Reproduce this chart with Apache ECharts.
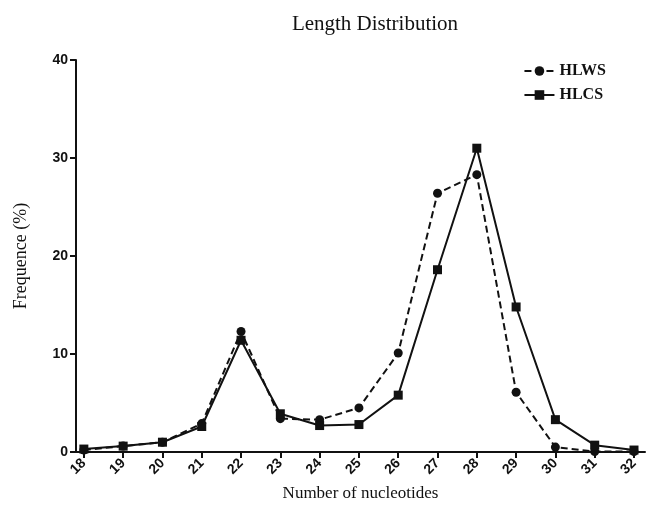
<!DOCTYPE html>
<html><head><meta charset="utf-8">
<script src="https://cdn.jsdelivr.net/npm/echarts@6/dist/echarts.min.js"></script>
<style>html,body{margin:0;padding:0;background:#fff}#c{width:647px;height:507px}</style>
</head><body><div id="c"></div>
<script>
const categories = [18,19,20,21,22,23,24,25,26,27,28,29,30,31,32];
const hlws = [0.2,0.6,1.0,2.9,12.3,3.4,3.3,4.5,10.1,26.4,28.3,6.1,0.5,0.05,0.05];
const hlcs = [0.3,0.6,1.0,2.6,11.4,3.9,2.7,2.8,5.8,18.6,31.0,14.8,3.3,0.7,0.2];
const yTicks = [0,10,20,30,40];

const chart = echarts.init(document.getElementById('c'));
chart.setOption({
  animation:false,
  title:{text:'Length Distribution',left:370,textAlign:'center',top:9,
    textStyle:{fontFamily:'Liberation Serif',fontWeight:'normal',fontSize:21,color:'#111'}},
  legend:{right:36,top:58,orient:'vertical',itemGap:8,itemWidth:30,itemHeight:12,
    textStyle:{fontFamily:'Liberation Serif',fontWeight:'bold',fontSize:16,color:'#111'},
    data:['HLWS','HLCS']},
  grid:{left:76,right:2,top:60,bottom:55},
  xAxis:{type:'value',min:17.8,max:32.28,
    name:'Number of nucleotides',nameLocation:'middle',nameGap:33,
    nameTextStyle:{fontFamily:'Liberation Serif',fontSize:17,color:'#111'},
    axisLine:{lineStyle:{color:'#111',width:2}},
    axisTick:{customValues:categories,length:6,lineStyle:{color:'#111',width:2}},
    axisLabel:{customValues:categories,rotate:45,fontFamily:'Liberation Sans',fontWeight:'bold',fontSize:14,color:'#111',margin:9},
    splitLine:{show:false}},
  yAxis:{type:'value',min:0,max:40,interval:10,
    name:'Frequence (%)',nameLocation:'middle',nameGap:46,
    nameTextStyle:{fontFamily:'Liberation Serif',fontSize:18,color:'#111'},
    axisLine:{show:true,lineStyle:{color:'#111',width:2}},
    axisTick:{show:true,length:6,lineStyle:{color:'#111',width:2}},
    axisLabel:{fontFamily:'Liberation Sans',fontWeight:'bold',fontSize:14,color:'#111',margin:8},
    splitLine:{show:false}},
  series:[
    {name:'HLWS',type:'line',data:categories.map((c,i)=>[c,hlws[i]]),
      symbol:'circle',symbolSize:9,itemStyle:{color:'#111'},
      lineStyle:{color:'#111',width:2,type:[7,4]}},
    {name:'HLCS',type:'line',data:categories.map((c,i)=>[c,hlcs[i]]),
      symbol:'rect',symbolSize:9,itemStyle:{color:'#111'},
      lineStyle:{color:'#111',width:2,type:'solid'}}
  ]
});
</script></body></html>
